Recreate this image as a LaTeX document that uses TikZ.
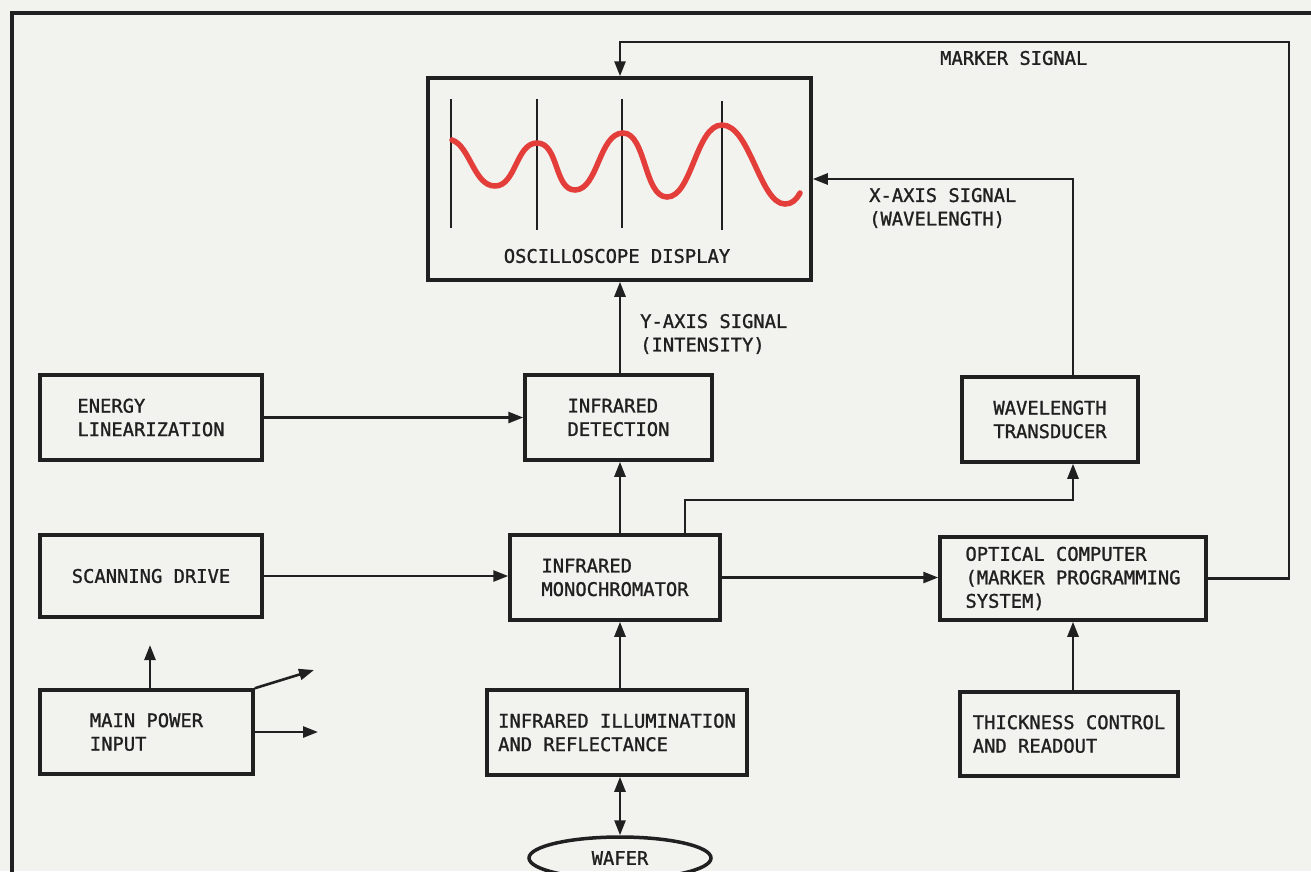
\documentclass[tikz,border=0pt]{standalone}
\usepackage{fontspec}
\setmainfont{DejaVu Sans Mono}[FakeBold=1.2]
\usetikzlibrary{arrows.meta,shapes.geometric}
\definecolor{paper}{RGB}{242,242,239}
\definecolor{ink}{RGB}{32,32,32}
\definecolor{wavecol}{RGB}{228,62,58}
\newcommand\diafont{\fontsize{18.8}{23.5}\selectfont}
\begin{document}
\begin{tikzpicture}[x=1pt,y=-1pt,
  box/.style={draw=ink, line width=3.5pt, align=left, text=ink, font=\diafont, inner sep=0pt},
  conn/.style={draw=ink, line width=2.6pt},
  arr/.style={conn, -{Triangle[length=15pt,width=11pt]}},
  dblarr/.style={conn, {Triangle[length=15pt,width=11pt]}-{Triangle[length=15pt,width=11pt]}},
  lbl/.style={text=ink, font=\diafont, align=left, inner sep=0pt}]
\fill[paper] (0,0) rectangle (1311,871);
\useasboundingbox (0,0) rectangle (1311,871);
% frame
\draw[ink, line width=4pt] (12,875) -- (12,13) -- (1315,13);
% boxes
\node[box, minimum width=383pt, minimum height=202pt] (osc) at (619.5,179) {};
\node[lbl] (osclbl) at (617,256) {OSCILLOSCOPE DISPLAY};
\node[box, minimum width=222pt, minimum height=85pt] (energy) at (151,417.5) {ENERGY\\LINEARIZATION};
\node[box, minimum width=187pt, minimum height=85pt] (det) at (618.5,417.5) {INFRARED\\DETECTION};
\node[box, minimum width=176pt, minimum height=85pt] (wt) at (1050,419.5) {WAVELENGTH\\TRANSDUCER};
\node[box, minimum width=222pt, minimum height=82pt] (scan) at (151,576) {SCANNING DRIVE};
\node[box, minimum width=210pt, minimum height=85pt] (mono) at (615,577.5) {INFRARED\\MONOCHROMATOR};
\node[box, minimum width=266pt, minimum height=83pt] (opt) at (1073,578.5) {OPTICAL COMPUTER\\(MARKER PROGRAMMING\\SYSTEM)};
\node[box, minimum width=213pt, minimum height=84pt] (main) at (146.5,732) {MAIN POWER\\INPUT};
\node[box, minimum width=260pt, minimum height=85pt] (ill) at (617,732.5) {INFRARED ILLUMINATION\\AND REFLECTANCE};
\node[box, minimum width=218pt, minimum height=84pt] (thick) at (1069,734) {THICKNESS CONTROL\\AND READOUT};
\node[box, ellipse, minimum width=182pt, minimum height=42pt] (wafer) at (620,858) {WAFER};
% oscilloscope content
\draw[ink, line width=2pt] (451,99) -- (451,228);
\draw[ink, line width=2pt] (537,99) -- (537,230);
\draw[ink, line width=2pt] (622,99) -- (622,228);
\draw[ink, line width=2pt] (722,101) -- (722,230);
\draw[wavecol, line width=5.5pt, line cap=round]
  (452,140) .. controls (470,146) and (474,186) .. (495,186)
  .. controls (516,186) and (516,143) .. (537,143)
  .. controls (559,143) and (554,190) .. (575,190)
  .. controls (598,190) and (599,133) .. (623,133)
  .. controls (646,133) and (644,197) .. (667,197)
  .. controls (692,197) and (696,125) .. (722,125)
  .. controls (750,125) and (760,204) .. (785,204)
  .. controls (792,204) and (796,200) .. (800,193);
% labels
\node[lbl, anchor=west] (ylbl) at (640,334) {Y-AXIS SIGNAL\\(INTENSITY)};
\node[lbl, anchor=west] (xlbl) at (869,208) {X-AXIS SIGNAL\\(WAVELENGTH)};
\node[lbl, anchor=west] (mlbl) at (940,58) {MARKER SIGNAL};
% helper coordinates
\coordinate (col) at (620,0);
\coordinate (wtcol) at (1073,0);
\coordinate (brx) at (685,500);
\coordinate (mk) at (1289,42);
\coordinate (p1) at (150,645);
\coordinate (p2) at (314,670);
\coordinate (p3) at (318,732);
% connectors
\draw[arr] (col |- det.north) -- (col |- osc.south);
\draw[arr] (col |- mono.north) -- (col |- det.south);
\draw[arr] (col |- ill.north) -- (col |- mono.south);
\draw[dblarr] (col |- ill.south) -- (wafer.north);
\draw[arr] (energy.east) -- (energy.east -| det.west);
\draw[arr] (scan.east) -- (scan.east -| mono.west);
\draw[arr] (mono.east) -- (mono.east -| opt.west);
\draw[arr] (brx |- mono.north) -- (brx) -- (wtcol |- brx) -- (wtcol |- wt.south);
\draw[arr] (wtcol |- wt.north) |- (osc.east);
\draw[arr] (opt.east) -- (opt.east -| mk) -- (mk) -- (col |- mk) -- (col |- osc.north);
\draw[arr] (wtcol |- thick.north) -- (wtcol |- opt.south);
\draw[arr] (p1 |- main.north) -- (p1);
\draw[arr] (main.north east) -- (p2);
\draw[arr] (main.east) -- (p3);
\end{tikzpicture}
\end{document}
